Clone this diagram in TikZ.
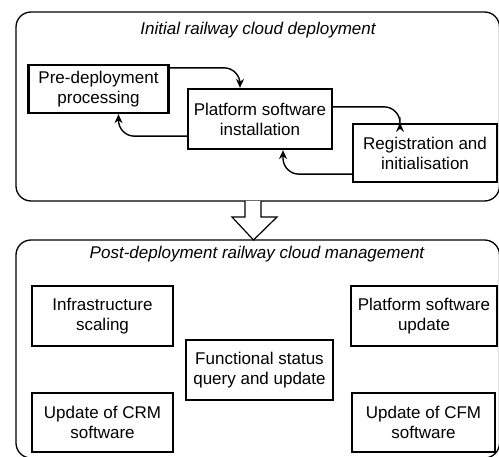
\documentclass[tikz,border=0pt]{standalone}
\usepackage{fontspec}
\setmainfont{Liberation Sans}
\usetikzlibrary{arrows.meta,calc}

\tikzset{
  panel/.style={draw, line width=1.3pt, rounded corners=15pt},
  stepbox/.style={draw, line width=2.3pt, align=center, inner sep=0pt,
    font=\fontsize{17}{20}\selectfont},
  paneltitle/.style={font=\fontsize{17}{20}\selectfont\itshape, inner sep=0pt},
  conn/.style={line width=1.4pt, rounded corners=16pt,
    -{Stealth[length=9pt,width=8pt]}},
  bigarrow/.style={draw, line width=1.2pt, fill=white, line join=miter},
}

\begin{document}
\begin{tikzpicture}[x=1pt,y=-1pt]
  \useasboundingbox (0,0) rectangle (499,457);

  % outer panels
  \draw[panel] (16,12) rectangle (499.5,201);
  \draw[panel] (16,240) rectangle (499.5,458);

  \node[paneltitle] (t1) at (258,30) {Initial railway cloud deployment};
  \node[paneltitle] (t2) at (257,254) {Post-deployment railway cloud management};

  % deployment steps
  \node[stepbox, minimum width=140pt, minimum height=48pt] (pre) at (98.5,89)
    {Pre-deployment\\processing};
  \node[stepbox, minimum width=144pt, minimum height=60pt] (plat) at (260,119)
    {Platform software\\installation};
  \node[stepbox, minimum width=144pt, minimum height=58pt] (reg) at (425,153)
    {Registration and\\initialisation};

  \draw[conn] ([yshift=-4pt]pre.north east) -| ([xshift=-20pt]plat.north);
  \draw[conn] ([yshift=-19pt]plat.north east) -| ([xshift=-25pt]reg.north);
  \draw[conn] ([yshift=14pt]plat.south west) -| ([xshift=20pt]pre.south);
  \draw[conn] ([yshift=9pt]reg.south west) -| ([xshift=23pt]plat.south);

  % hollow arrow between the panels
  \coordinate (ha) at (253,201);
  \draw[bigarrow] ($(ha)+(-8,0)$) -- ++(0,16) -- ++(-13,0)
    -- ($(ha)+(0.5,39)$) -- ($(ha)+(24,16)$) -- ++(-16,0) -- ($(ha)+(8,0)$);

  % management tasks
  \node[stepbox, minimum width=141pt, minimum height=60pt] (infra) at (102.5,316)
    {Infrastructure\\scaling};
  \node[stepbox, minimum width=146pt, minimum height=60pt] (psu) at (424,316)
    {Platform software\\update};
  \node[stepbox, minimum width=147pt, minimum height=60pt] (func) at (259.5,370)
    {Functional status\\query and update};
  \node[stepbox, minimum width=141pt, minimum height=59pt] (crm) at (102.5,422.5)
    {Update of CRM\\software};
  \node[stepbox, minimum width=143pt, minimum height=59pt] (cfm) at (423.5,422.5)
    {Update of CFM\\software};
\end{tikzpicture}
\end{document}
